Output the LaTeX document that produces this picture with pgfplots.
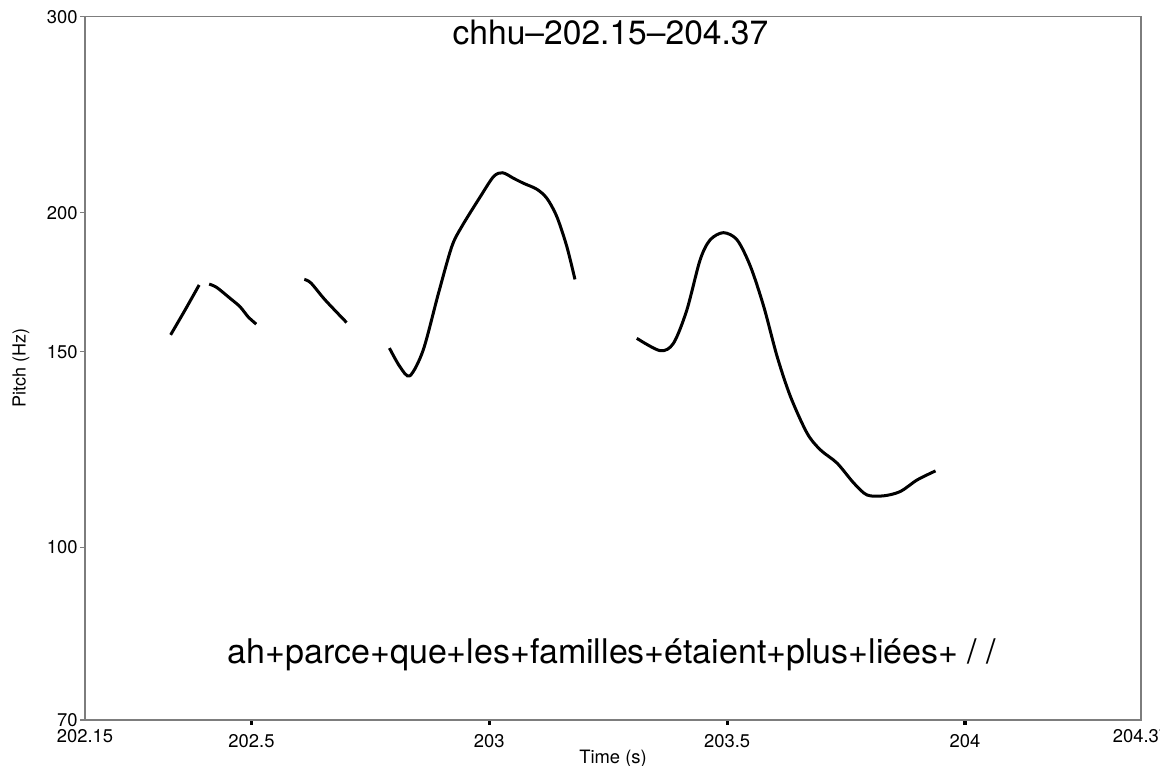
\documentclass[border=0pt]{standalone}
\usepackage{fontspec}
\setmainfont{TeX Gyre Heros}
\usepackage{pgfplots}
\pgfplotsset{compat=1.18}
\definecolor{framegray}{RGB}{125,125,125}
\begin{document}
\begin{tikzpicture}
\useasboundingbox (0,0) rectangle (580pt,382.5pt);
\begin{axis}[
  at={(42.5pt,22.5pt)}, anchor=south west,
  width=528pt, height=351.65pt, scale only axis,
  xmin=202.15, xmax=204.37,
  ymode=log, log basis y=10, ymin=70, ymax=300,
  ytick={70,100,150,200,300},
  yticklabels={70,100,150,200,300},
  xtick={202.5,203,203.5,204},
  xticklabels={202.5,203,203.5,204},
  extra x ticks={202.15,204.37},
  extra x tick labels={202.15,204.37},
  extra x tick style={major tick length=0pt},
  minor tick num=0,
  xtick pos=bottom, ytick pos=left,
  tick align=outside,
  major tick length=2.5pt,
  axis line style={framegray, line width=0.8pt},
  xtick style={black, line width=1.6pt},
  ytick style={framegray, line width=0.6pt},
  xticklabel style={inner sep=1pt, yshift=-3.4pt, font=\fontsize{9.2}{10}\selectfont},
  yticklabel style={inner sep=1pt, font=\fontsize{9.2}{10}\selectfont},
  xlabel={Time (s)},
  ylabel={Pitch (Hz)},
  every axis x label/.style={at={(axis description cs:0.5,-0.0616)}, anchor=base, font=\fontsize{9.2}{10}\selectfont},
  every axis y label/.style={at={(axis description cs:-0.0606,0.5)}, rotate=90, anchor=center, font=\fontsize{9}{10}\selectfont},
  title={chhu--202.15--204.37},
  every axis title/.style={at={(axis description cs:0.4976,0.9598)}, anchor=base, font=\fontsize{16.8}{18}\selectfont},
  clip=false,
]
\addplot[black, line width=1.5pt, smooth] coordinates {
(202.330,155.3) (202.360,163.4) (202.390,172.2)
};
\addplot[black, line width=1.5pt, smooth] coordinates {
(202.411,172.5) (202.427,171.3) (202.455,167.5) (202.476,164.6) (202.493,161.2) (202.510,158.8)
};
\addplot[black, line width=1.5pt, smooth] coordinates {
(202.611,174.2) (202.625,172.9) (202.655,166.9) (202.700,159.3)
};
\addplot[black, line width=1.5pt, smooth] coordinates {
(202.790,151.1) (202.812,145.4) (202.833,142.7) (202.861,150.5) (202.893,169.2)
(202.921,186.4) (202.942,194.3) (202.981,206.7) (203.009,215.5) (203.028,217.2)
(203.051,214.7) (203.072,212.5) (203.100,209.9) (203.121,206.0) (203.142,198.3)
(203.163,186.4) (203.180,174.2)
};
\addplot[black, line width=1.5pt, smooth] coordinates {
(203.310,154.2) (203.359,150.3) (203.387,152.6) (203.415,163.4) (203.443,181.3)
(203.464,189.0) (203.492,191.9) (203.521,189.0) (203.549,178.9) (203.577,164.6)
(203.605,148.5) (203.633,136.7) (203.668,126.7) (203.696,122.4) (203.731,119.1)
(203.766,114.3) (203.794,111.5) (203.829,111.3) (203.864,112.3) (203.899,115.0)
(203.938,117.2)
};
\node[anchor=base, font=\fontsize{17}{18}\selectfont, inner sep=0pt] at (axis description cs:0.499,0.0796) {ah+parce+que+les+familles+étaient+plus+liées+ / /};
\end{axis}
\end{tikzpicture}
\end{document}
